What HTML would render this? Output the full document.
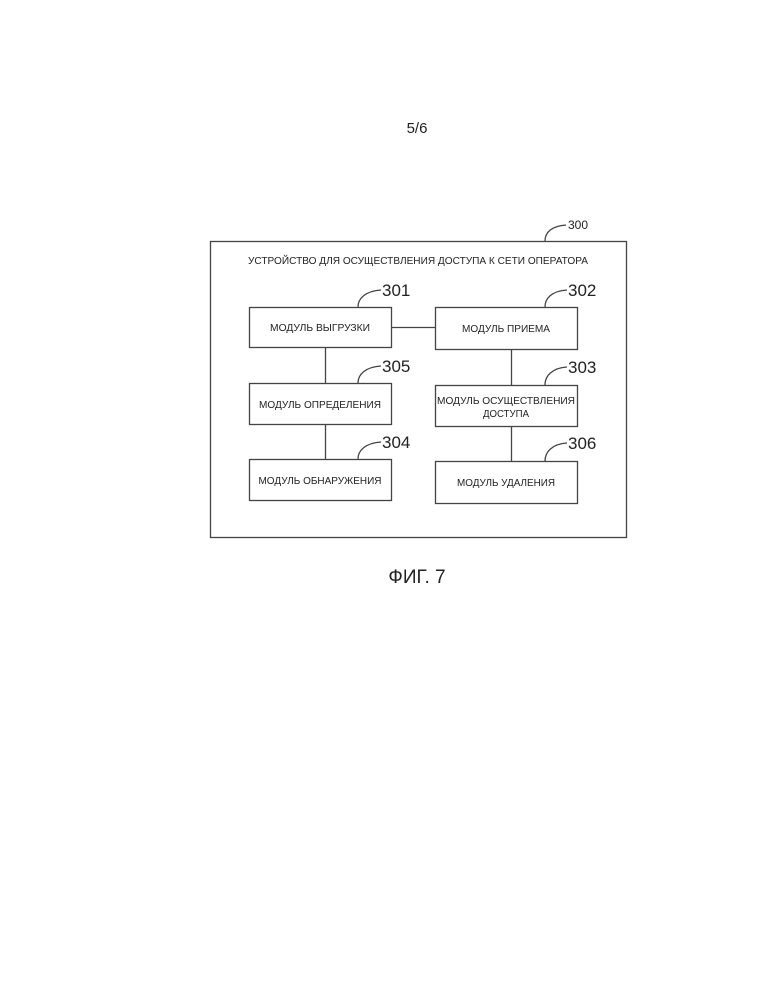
<!DOCTYPE html>
<html><head><meta charset="utf-8"><style>
body{margin:0;background:#fff;}
svg{display:block;}
text{font-family:"Liberation Sans","DejaVu Sans",sans-serif;fill:#222;}
</style></head><body>
<svg width="772" height="999" viewBox="0 0 772 999" xmlns="http://www.w3.org/2000/svg">
<text x="417" y="133" font-size="15" text-anchor="middle">5/6</text>
<g fill="none" stroke="#444" stroke-width="1.3">
<rect x="210.5" y="241.5" width="416" height="296"/>
<rect x="249.5" y="307.5" width="142" height="40"/>
<rect x="435.5" y="307.5" width="142" height="42"/>
<rect x="249.5" y="383.5" width="142" height="41"/>
<rect x="435.5" y="385.5" width="142" height="41"/>
<rect x="249.5" y="459.5" width="142" height="41"/>
<rect x="435.5" y="461.5" width="142" height="42"/>
<line x1="391" y1="327.5" x2="435" y2="327.5"/>
<line x1="325.5" y1="347" x2="325.5" y2="383"/>
<line x1="325.5" y1="424" x2="325.5" y2="459"/>
<line x1="511.5" y1="349" x2="511.5" y2="385"/>
<line x1="511.5" y1="426" x2="511.5" y2="461"/>
<path d="M545 241 C545 232 552 226 566 225"/>
<path d="M358 307 C358 298 366 291 381 290"/>
<path d="M545 307 C545 298 552 291 567 290"/>
<path d="M358 383 C358 374 366 367 381 366"/>
<path d="M545 385 C545 376 552 368 567 367"/>
<path d="M358 459 C358 450 366 443 381 442"/>
<path d="M545 461 C545 452 552 444 567 443"/>
</g>
<text x="568" y="229" font-size="12">300</text>
<text x="382" y="296" font-size="17">301</text>
<text x="568" y="296" font-size="17">302</text>
<text x="382" y="372" font-size="17">305</text>
<text x="568" y="373" font-size="17">303</text>
<text x="382" y="448" font-size="17">304</text>
<text x="568" y="449" font-size="17">306</text>
<g font-size="10" text-anchor="middle">
<text x="418" y="264" textLength="340" lengthAdjust="spacingAndGlyphs">УСТРОЙСТВО ДЛЯ ОСУЩЕСТВЛЕНИЯ ДОСТУПА К СЕТИ ОПЕРАТОРА</text>
<text x="320" y="331" textLength="100" lengthAdjust="spacingAndGlyphs">МОДУЛЬ ВЫГРУЗКИ</text>
<text x="506" y="332" textLength="88" lengthAdjust="spacingAndGlyphs">МОДУЛЬ ПРИЕМА</text>
<text x="320" y="408" textLength="122" lengthAdjust="spacingAndGlyphs">МОДУЛЬ ОПРЕДЕЛЕНИЯ</text>
<text x="506" y="404" textLength="138" lengthAdjust="spacingAndGlyphs">МОДУЛЬ ОСУЩЕСТВЛЕНИЯ</text>
<text x="506" y="417" textLength="46" lengthAdjust="spacingAndGlyphs">ДОСТУПА</text>
<text x="320" y="484" textLength="123" lengthAdjust="spacingAndGlyphs">МОДУЛЬ ОБНАРУЖЕНИЯ</text>
<text x="506" y="486" textLength="98" lengthAdjust="spacingAndGlyphs">МОДУЛЬ УДАЛЕНИЯ</text>
</g>
<text x="417" y="583" font-size="19" text-anchor="middle">ФИГ. 7</text>
</svg>
</body></html>
